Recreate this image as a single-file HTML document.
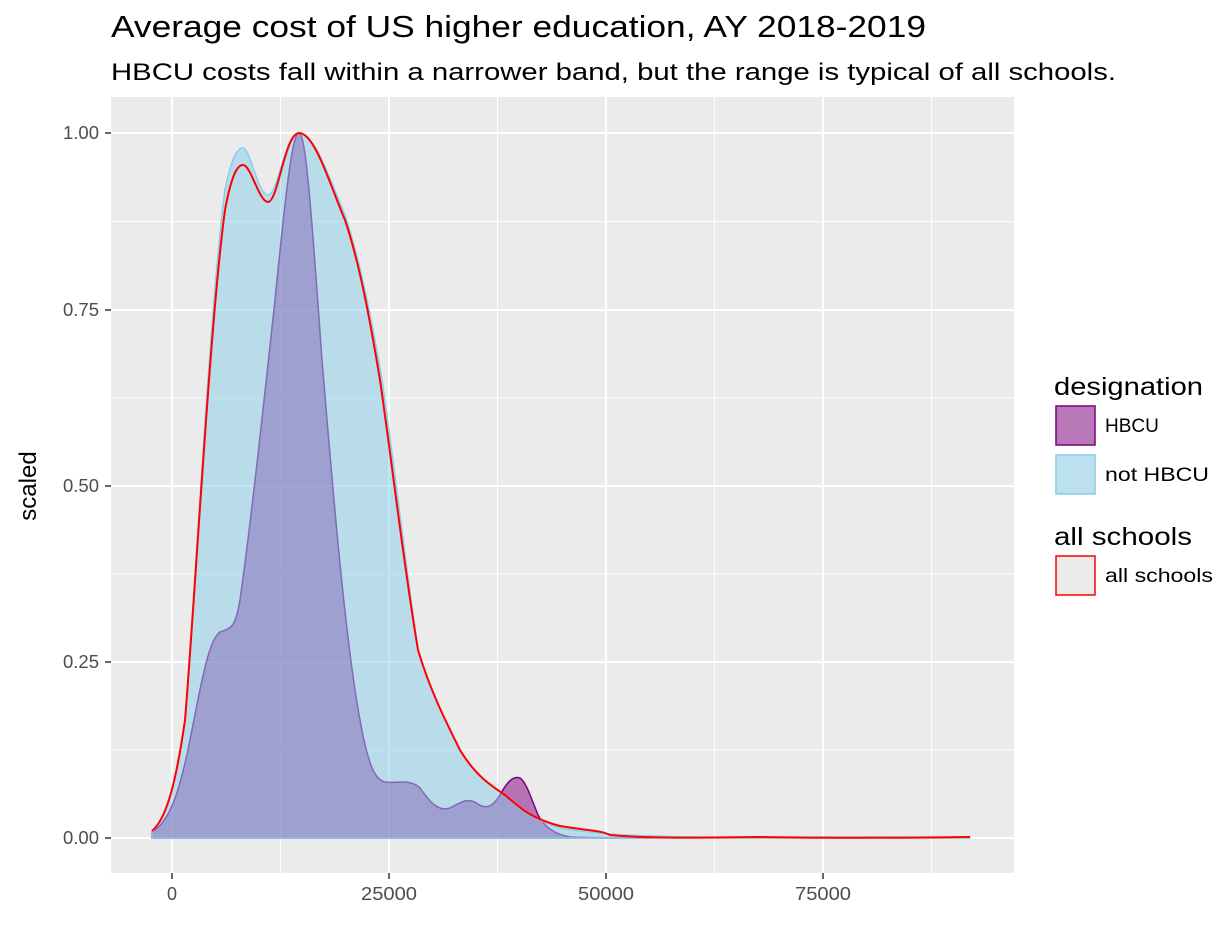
<!DOCTYPE html>
<html><head><meta charset="utf-8"><style>
body{margin:0;background:#fff;width:1228px;height:921px;overflow:hidden}
svg{font-family:"Liberation Sans",Arial,sans-serif}
</style></head><body>
<svg width="1228" height="921" xmlns="http://www.w3.org/2000/svg">
<text x="111" y="37" font-size="31" fill="#000" textLength="815" lengthAdjust="spacingAndGlyphs">Average cost of US higher education, AY 2018-2019</text>
<text x="111" y="80" font-size="24" fill="#000" textLength="1005" lengthAdjust="spacingAndGlyphs">HBCU costs fall within a narrower band, but the range is typical of all schools.</text>
<rect x="111" y="97" width="903" height="776" fill="#ebebeb"/>
<g stroke="#fff" stroke-width="1">
<line x1="111" x2="1014" y1="221.5" y2="221.5"/><line x1="111" x2="1014" y1="398" y2="398"/>
<line x1="111" x2="1014" y1="574" y2="574"/><line x1="111" x2="1014" y1="750" y2="750"/>
<line y1="97" y2="873" x1="280.5" x2="280.5"/><line y1="97" y2="873" x1="497.5" x2="497.5"/>
<line y1="97" y2="873" x1="714.5" x2="714.5"/><line y1="97" y2="873" x1="931.5" x2="931.5"/>
</g>
<g stroke="#fff" stroke-width="2">
<line x1="111" x2="1014" y1="133" y2="133"/><line x1="111" x2="1014" y1="310" y2="310"/>
<line x1="111" x2="1014" y1="486" y2="486"/><line x1="111" x2="1014" y1="662" y2="662"/>
<line x1="111" x2="1014" y1="838" y2="838"/>
<line y1="97" y2="873" x1="172" x2="172"/><line y1="97" y2="873" x1="389" x2="389"/>
<line y1="97" y2="873" x1="606" x2="606"/><line y1="97" y2="873" x1="823" x2="823"/>
</g>
<!-- HBCU -->
<path d="M152,832 C170,822 180,790 190,740 C200,690 208,640 220,632 C230,628 235,630 240,600 C250,530 262,420 275,300 C285,200 292,133 299,133 C306,133 312,220 322,360 C332,480 345,640 360,720 C368,765 375,780 385,782 C395,784 410,778 420,788 C430,802 438,812 450,808 C460,803 466,798 475,802 C485,810 492,808 500,795 C508,780 514,776 520,778 C526,782 530,795 538,815 C545,828 555,834 570,837 C590,838 610,838 650,838 L152,838 Z" fill="#800080" fill-opacity="0.5" stroke="#800080" stroke-width="1.5"/>
<!-- not HBCU -->
<path d="M152,832 C165,820 175,790 185,720 C195,600 210,300 225,190 C232,155 238,148 243,148 C250,148 258,195 268,195 C278,195 285,133 299,133 C315,133 330,180 345,215 C360,260 372,320 382,380 C395,470 405,560 418,650 C430,690 445,720 460,750 C475,775 490,785 505,795 C520,810 535,820 560,828 C590,833 620,836 700,837 L970,837 L970,838 L152,838 Z" fill="#87ceeb" fill-opacity="0.5" stroke="#87ceeb" stroke-width="1.5"/>
<!-- all schools -->
<path d="M152,831 C165,820 175,790 185,720 C195,600 210,320 225,210 C232,172 238,165 243,165 C251,165 259,202 268,202 C278,202 285,133 299,133 C315,133 330,185 345,220 C360,265 370,320 380,380 C393,470 403,560 418,650 C430,690 445,720 460,750 C475,775 490,785 505,795 C520,808 530,818 560,826 C590,831 600,830 610,835 C640,838 680,838 760,837 C800,838 900,838 970,837" fill="none" stroke="#ff0000" stroke-width="2"/>
<g font-size="18" fill="#4d4d4d" text-anchor="end">
<text x="99" y="139" textLength="36" lengthAdjust="spacingAndGlyphs">1.00</text><text x="99" y="316" textLength="36" lengthAdjust="spacingAndGlyphs">0.75</text><text x="99" y="492" textLength="36" lengthAdjust="spacingAndGlyphs">0.50</text>
<text x="99" y="668" textLength="36" lengthAdjust="spacingAndGlyphs">0.25</text><text x="99" y="844" textLength="36" lengthAdjust="spacingAndGlyphs">0.00</text>
</g>
<g stroke="#333" stroke-width="1.5">
<line x1="105" x2="111" y1="133" y2="133"/><line x1="105" x2="111" y1="310" y2="310"/>
<line x1="105" x2="111" y1="486" y2="486"/><line x1="105" x2="111" y1="662" y2="662"/>
<line x1="105" x2="111" y1="838" y2="838"/>
<line y1="873" y2="879" x1="172" x2="172"/><line y1="873" y2="879" x1="389" x2="389"/>
<line y1="873" y2="879" x1="606" x2="606"/><line y1="873" y2="879" x1="823" x2="823"/>
</g>
<g font-size="18" fill="#4d4d4d" text-anchor="middle">
<text x="172" y="900">0</text><text x="389" y="900" textLength="56" lengthAdjust="spacingAndGlyphs">25000</text><text x="606" y="900" textLength="56" lengthAdjust="spacingAndGlyphs">50000</text><text x="823" y="900" textLength="56" lengthAdjust="spacingAndGlyphs">75000</text>
</g>
<text transform="translate(36,486) rotate(-90)" font-size="24" text-anchor="middle" fill="#000">scaled</text>
<text x="1054" y="395" font-size="25" textLength="149" lengthAdjust="spacingAndGlyphs">designation</text>
<rect x="1055" y="405" width="41" height="41" fill="#f2f2f2"/>
<rect x="1056" y="406" width="39" height="39" fill="#800080" fill-opacity="0.5" stroke="#800080" stroke-width="1.5"/>
<text x="1105" y="432" font-size="19">HBCU</text>
<rect x="1055" y="454" width="41" height="41" fill="#f2f2f2"/>
<rect x="1056" y="455" width="39" height="39" fill="#87ceeb" fill-opacity="0.5" stroke="#87ceeb" stroke-width="1.5"/>
<text x="1105" y="481" font-size="19" textLength="104" lengthAdjust="spacingAndGlyphs">not HBCU</text>
<text x="1054" y="545" font-size="25" textLength="138" lengthAdjust="spacingAndGlyphs">all schools</text>
<rect x="1056" y="556" width="39" height="39" fill="#ebebeb" stroke="#ff0000" stroke-width="1.5"/>
<text x="1105" y="582" font-size="19" textLength="108" lengthAdjust="spacingAndGlyphs">all schools</text>
</svg>
</body></html>
